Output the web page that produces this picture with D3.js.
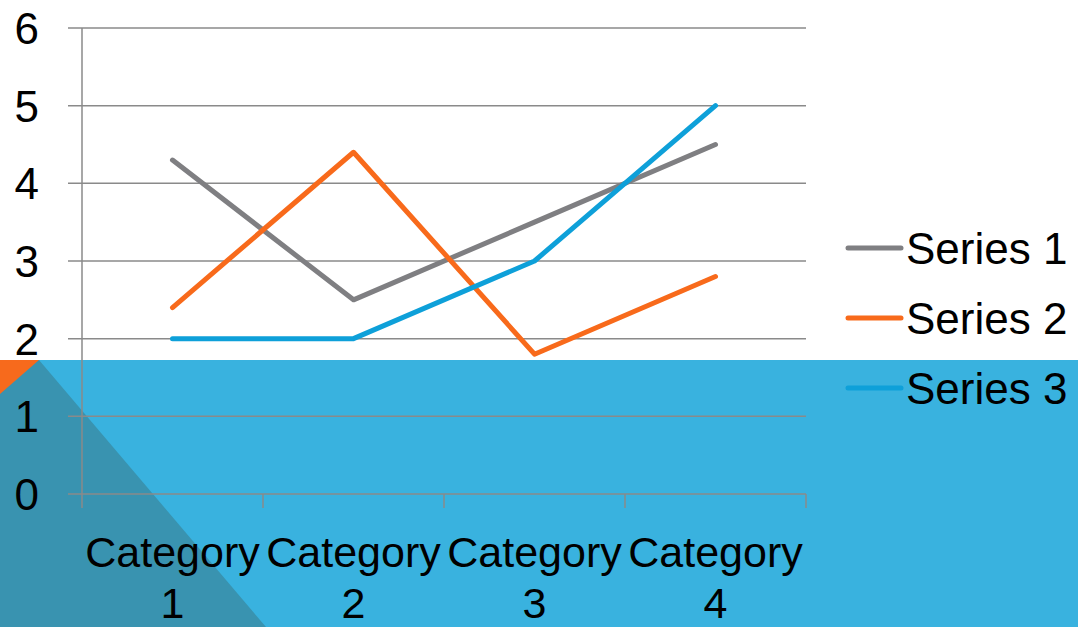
<!DOCTYPE html>
<html>
<head>
<meta charset="utf-8">
<script src="https://cdn.jsdelivr.net/npm/d3@7"></script>
<style>
  html, body { margin: 0; padding: 0; background: #fff; }
  svg { display: block; font-family: "Liberation Sans", Arial, sans-serif; }
</style>
</head>
<body>
<div id="chart"></div>
<script>
// data
var categories = ['Category 1', 'Category 2', 'Category 3', 'Category 4'];
var series1 = [4.3, 2.5, 3.5, 4.5];
var series2 = [2.4, 4.4, 1.8, 2.8];
var series3 = [2, 2, 3, 5];
var seriesNames = ['Series 1', 'Series 2', 'Series 3'];
var yTicks = [0, 1, 2, 3, 4, 5, 6];

var colors = ['#7f7f82', '#f86a1b', '#0ea0d9'];
var chart_width = 1078;
var chart_height = 627;

var svg = d3.select('#chart')
    .append('svg')
    .attr('width', chart_width)
    .attr('height', chart_height);

// slide background decoration
svg.append('rect')
    .attr('x', 0).attr('y', 360)
    .attr('width', chart_width).attr('height', chart_height - 360)
    .attr('fill', '#39b2df');
svg.append('polygon')
    .attr('points', '0,360 39,360 266,627 0,627')
    .attr('fill', '#3993b0');
svg.append('polygon')
    .attr('points', '0,360 39,360 0,394')
    .attr('fill', '#f76a1c');

// scales
var x_scale = d3.scaleBand()
    .domain(categories)
    .range([82, 806]);

var y_scale = d3.scaleLinear()
    .domain([0, 6])
    .range([494, 28]);

// gridlines
svg.append('g')
    .selectAll('line')
    .data(yTicks)
    .enter()
    .append('line')
    .attr('x1', 68)
    .attr('x2', 806)
    .attr('y1', function(d){ return y_scale(d); })
    .attr('y2', function(d){ return y_scale(d); })
    .attr('stroke', '#8a8a8a')
    .attr('stroke-width', 1.5);

// y axis line
svg.append('line')
    .attr('x1', 82).attr('x2', 82)
    .attr('y1', y_scale(6)).attr('y2', 508)
    .attr('stroke', '#8a8a8a')
    .attr('stroke-width', 1.5);

// category ticks
var tickX = categories.map(function(c){ return x_scale(c) + x_scale.bandwidth(); });
svg.append('g')
    .selectAll('line')
    .data(tickX)
    .enter()
    .append('line')
    .attr('x1', function(d){ return d; })
    .attr('x2', function(d){ return d; })
    .attr('y1', y_scale(0))
    .attr('y2', 508)
    .attr('stroke', '#8a8a8a')
    .attr('stroke-width', 1.5);

// y labels
svg.append('g')
    .selectAll('text')
    .data(yTicks)
    .enter()
    .append('text')
    .attr('x', 39)
    .attr('y', function(d){ return y_scale(d); })
    .attr('dy', '0.36em')
    .attr('text-anchor', 'end')
    .attr('font-size', 44)
    .attr('fill', '#000')
    .text(function(d){ return d; });

// category labels (two lines)
var catLabels = svg.append('g')
    .selectAll('text')
    .data(categories)
    .enter()
    .append('text')
    .attr('text-anchor', 'middle')
    .attr('font-size', 43)
    .attr('fill', '#000');
catLabels.each(function(d){
    var parts = d.split(' ');
    var cx = x_scale(d) + x_scale.bandwidth() / 2;
    var t = d3.select(this);
    t.append('tspan').attr('x', cx).attr('y', 567).text(parts[0]);
    t.append('tspan').attr('x', cx).attr('y', 618).text(parts[1]);
});

// lines
var line = d3.line()
    .x(function(d, i){ return x_scale(categories[i]) + x_scale.bandwidth() / 2; })
    .y(function(d){ return y_scale(d); });

var allSeries = [series1, series2, series3];
svg.append('g')
    .selectAll('path')
    .data(allSeries)
    .enter()
    .append('path')
    .attr('fill', 'none')
    .attr('stroke', function(d, i){ return colors[i]; })
    .attr('stroke-width', 5)
    .attr('stroke-linecap', 'round')
    .attr('stroke-linejoin', 'round')
    .attr('d', line);

// legend
var legend = svg.append('g')
    .selectAll('g')
    .data(seriesNames)
    .enter()
    .append('g')
    .attr('transform', function(d, i){ return 'translate(0,' + (248 + i * 70) + ')'; });
legend.append('line')
    .attr('x1', 848).attr('x2', 901)
    .attr('y1', 0).attr('y2', 0)
    .attr('stroke', function(d, i){ return colors[i]; })
    .attr('stroke-width', 5)
    .attr('stroke-linecap', 'round');
legend.append('text')
    .attr('x', 906)
    .attr('y', 0)
    .attr('dy', '0.36em')
    .attr('font-size', 44)
    .attr('fill', '#000')
    .text(function(d){ return d; });
</script>
</body>
</html>
